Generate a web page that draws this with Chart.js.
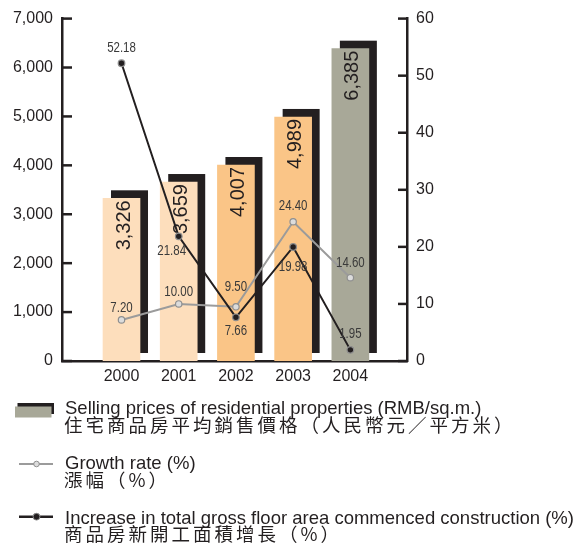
<!DOCTYPE html>
<html>
<head>
<meta charset="utf-8">
<script src="https://cdn.jsdelivr.net/npm/chart.js@4.4.0/dist/chart.umd.min.js"></script>
<style>
html, body { margin: 0; padding: 0; background: #fff; }
#wrap { position: relative; width: 580px; height: 546px; overflow: hidden; }
#c { position: absolute; left: 0; top: 0; }
</style>
</head>
<body>
<div id="wrap">
  <canvas id="c" width="580" height="546"></canvas>
</div>
<script>
// ---- data ----
const years = ['2000', '2001', '2002', '2003', '2004'];
const sellingPrice = [3326, 3659, 4007, 4989, 6385];
const growthRate = [7.20, 10.00, 9.50, 24.40, 14.60];
const floorAreaIncrease = [52.18, 21.84, 7.66, 19.98, 1.95];
const leftTicks = [0, 1000, 2000, 3000, 4000, 5000, 6000, 7000];
const rightTicks = [0, 10, 20, 30, 40, 50, 60];
const legendEn = [
  'Selling prices of residential properties (RMB/sq.m.)',
  'Growth rate (%)',
  'Increase in total gross floor area commenced construction (%)'
];
const legendZh = [
  '住宅商品房平均銷售價格（人民幣元／平方米）',
  '漲幅（%）',
  '商品房新開工面積增長（%）'
];

// ---- styles ----
const INK = '#231F20';
const LABEL_INK = '#3a3a3a';
const barColors = ['#FDDEBC', '#FDDEBC', '#FAC587', '#FAC587', '#A8A898'];
const GRAY_LINE = '#9b9b9b';
const SHADOW = 8;
// label placement (pixel offsets from each point)
const growthLabelOffset = [[0, -12], [0, -12], [0, -20], [0, -16], [0, -15]];
const increaseLabelOffset = [[0, -15], [-7, 15], [0, 14], [0, 20], [0, -16]];
// legend rows: baselines of english / chinese lines
const legendRowsY = [[414.4, 431.5], [469.4, 487], [524.4, 540.5]];

Chart.defaults.font.family = '"Liberation Sans", Arial, Helvetica, sans-serif';
Chart.defaults.color = INK;

const fmt = v => Number(v).toLocaleString('en-US');

function hasNarrow(ctx) {
  const s = '52.18 abcdefghij';
  ctx.save();
  ctx.font = '14px monospace';
  const w1 = ctx.measureText(s).width;
  ctx.font = '14px "Liberation Sans Narrow", monospace';
  const w2 = ctx.measureText(s).width;
  ctx.restore();
  return Math.abs(w1 - w2) > 0.5;
}

function dot(ctx, x, y, r, fill, stroke, lw) {
  ctx.beginPath();
  ctx.arc(x, y, r, 0, Math.PI * 2);
  ctx.fillStyle = fill;
  ctx.fill();
  ctx.lineWidth = lw;
  ctx.strokeStyle = stroke;
  ctx.stroke();
}

const decorPlugin = {
  id: 'decor',
  beforeDatasetDraw(chart, args) {
    if (args.meta.type !== 'bar') return;
    const ctx = chart.ctx;
    ctx.save();
    ctx.fillStyle = INK;
    args.meta.data.forEach(el => {
      const p = el.getProps(['x', 'y', 'base', 'width'], true);
      ctx.fillRect(p.x - p.width / 2 + SHADOW, p.y - SHADOW, p.width, p.base - p.y);
    });
    ctx.restore();
  },
  afterDatasetDraw(chart, args) {
    if (args.meta.type !== 'bar') return;
    const ctx = chart.ctx;
    const ds = chart.data.datasets[args.index];
    ctx.save();
    ctx.fillStyle = INK;
    ctx.font = '20px "Liberation Sans", Arial, sans-serif';
    args.meta.data.forEach((el, i) => {
      const p = el.getProps(['x', 'y'], true);
      ctx.save();
      ctx.translate(p.x + 2.5, p.y + 2);
      ctx.rotate(-Math.PI / 2);
      ctx.textAlign = 'right';
      ctx.textBaseline = 'middle';
      ctx.fillText(fmt(ds.data[i].y), 0, 0);
      ctx.restore();
    });
    ctx.restore();
  },
  afterDatasetsDraw(chart) {
    const ctx = chart.ctx;
    const narrow = hasNarrow(ctx);
    const drawLabels = (dsIndex, values, offsets) => {
      const meta = chart.getDatasetMeta(dsIndex);
      meta.data.forEach((el, i) => {
        const p = el.getProps(['x', 'y'], true);
        ctx.save();
        ctx.fillStyle = LABEL_INK;
        ctx.textAlign = 'center';
        ctx.textBaseline = 'middle';
        ctx.translate(p.x + offsets[i][0], p.y + offsets[i][1]);
        if (narrow) {
          ctx.font = '14px "Liberation Sans Narrow", sans-serif';
        } else {
          ctx.font = '14px "Liberation Sans", Arial, sans-serif';
          ctx.scale(0.82, 1);
        }
        ctx.fillText(values[i].toFixed(2), 0, 0);
        ctx.restore();
      });
    };
    drawLabels(1, growthRate, growthLabelOffset);
    drawLabels(0, floorAreaIncrease, increaseLabelOffset);
  },
  afterDraw(chart) {
    const ctx = chart.ctx;
    ctx.save();
    ctx.strokeStyle = INK;
    ctx.lineWidth = 2.5;
    const yl = chart.scales.y, yr = chart.scales.y1;
    leftTicks.forEach(v => {
      const y = yl.getPixelForValue(v);
      ctx.beginPath(); ctx.moveTo(yl.right, y); ctx.lineTo(yl.right + 10, y); ctx.stroke();
    });
    rightTicks.forEach(v => {
      const y = yr.getPixelForValue(v);
      ctx.beginPath(); ctx.moveTo(yr.left, y); ctx.lineTo(yr.left - 9, y); ctx.stroke();
    });
    ctx.restore();

    // ---- legend ----
    ctx.save();
    ctx.fillStyle = INK;
    ctx.fillRect(17.5, 403, 36.5, 11);
    ctx.fillStyle = barColors[4];
    ctx.fillRect(15, 406.5, 36.5, 11);
    ctx.fillStyle = GRAY_LINE;
    ctx.fillRect(19, 463, 34, 2);
    dot(ctx, 36.5, 464, 2.8, '#dcdcdc', '#8f8f8f', 1);
    ctx.fillStyle = INK;
    ctx.fillRect(19, 515.5, 34, 2.5);
    dot(ctx, 36.5, 516.7, 3.4, INK, '#8c8c8c', 1);
    ctx.fillStyle = INK;
    ctx.textAlign = 'left';
    ctx.textBaseline = 'alphabetic';
    legendRowsY.forEach((ys, i) => {
      ctx.font = '18.5px "Liberation Sans", Arial, sans-serif';
      if ('letterSpacing' in ctx) ctx.letterSpacing = '0px';
      ctx.fillText(legendEn[i], 65, ys[0]);
      ctx.font = '18.5px "Noto Sans CJK TC", "Noto Sans CJK SC", sans-serif';
      if ('letterSpacing' in ctx) ctx.letterSpacing = '3px';
      ctx.fillText(legendZh[i], 64, ys[1]);
    });
    ctx.restore();
  }
};

const ctx = document.getElementById('c').getContext('2d');
new Chart(ctx, {
  type: 'bar',
  data: {
    datasets: [
      {
        type: 'line', label: legendEn[2],
        data: floorAreaIncrease.map((v, i) => ({ x: i, y: v })),
        yAxisID: 'y1', borderColor: INK, borderWidth: 2,
        pointRadius: 3.3, pointBackgroundColor: INK, pointBorderColor: '#8c8c8c', pointBorderWidth: 1.2,
        tension: 0, order: 0
      },
      {
        type: 'line', label: legendEn[1],
        data: growthRate.map((v, i) => ({ x: i, y: v })),
        yAxisID: 'y1', borderColor: GRAY_LINE, borderWidth: 2,
        pointRadius: 3.2, pointBackgroundColor: '#dcdcdc', pointBorderColor: '#8f8f8f', pointBorderWidth: 1.2,
        tension: 0, order: 1
      },
      {
        type: 'bar', label: legendEn[0],
        data: sellingPrice.map((v, i) => ({ x: i, y: v })),
        yAxisID: 'y', backgroundColor: barColors, borderWidth: 0, barThickness: 37, order: 2
      }
    ]
  },
  options: {
    responsive: false, animation: false, devicePixelRatio: 1,
    layout: { padding: { top: 16, left: 0, right: 0, bottom: 155 } },
    plugins: { legend: { display: false }, tooltip: { enabled: false } },
    scales: {
      x: {
        type: 'linear', min: -1.04, max: 4.99, offset: false,
        grid: { display: false, drawTicks: false, offset: false },
        border: { display: true, width: 2.5, color: INK },
        afterBuildTicks: s => { s.ticks = years.map((_, i) => ({ value: i })); },
        ticks: { callback: v => years[v], autoSkip: false, maxRotation: 0, minRotation: 0, padding: 6, font: { size: 16 }, color: INK },
        afterFit: s => { s.height = 30; }
      },
      y: {
        position: 'left', min: 0, max: 7000,
        afterBuildTicks: s => { s.ticks = leftTicks.map(v => ({ value: v })); },
        ticks: { callback: v => fmt(v), padding: 9, font: { size: 16 }, color: INK },
        grid: { display: false, drawTicks: false },
        border: { display: true, width: 2.5, color: INK },
        afterFit: s => { s.width = 62; }
      },
      y1: {
        position: 'right', min: 0, max: 60,
        afterBuildTicks: s => { s.ticks = rightTicks.map(v => ({ value: v })); },
        ticks: { callback: v => String(v), padding: 9, font: { size: 16 }, color: INK },
        grid: { display: false, drawTicks: false },
        border: { display: true, width: 2.5, color: INK },
        afterFit: s => { s.width = 173; }
      }
    }
  },
  plugins: [decorPlugin]
});
</script>
</body>
</html>
